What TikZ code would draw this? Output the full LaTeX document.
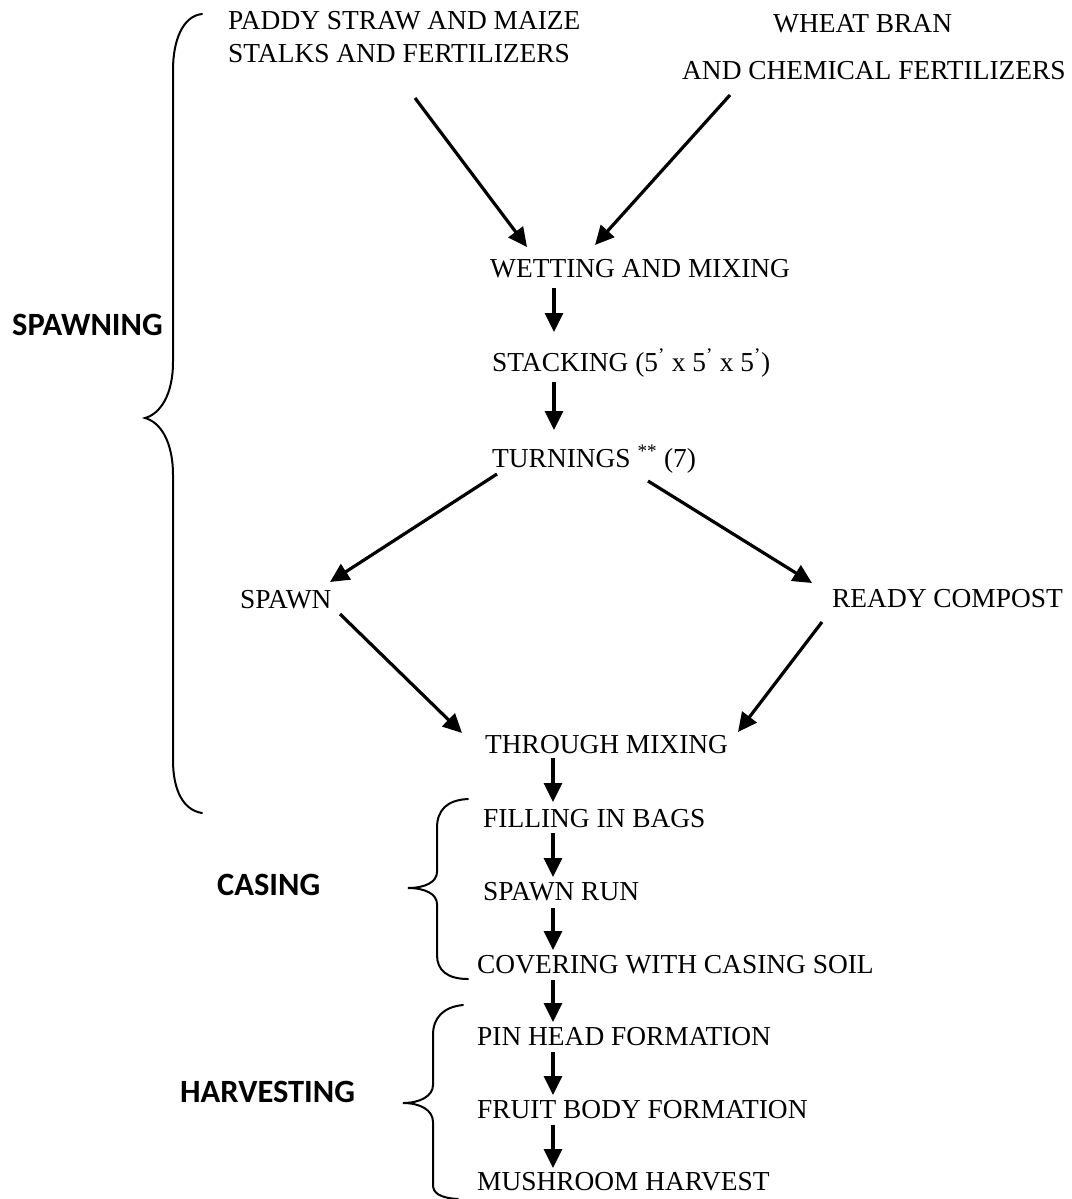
\documentclass[tikz,border=0pt]{standalone}
\usepackage{fontspec}
\setmainfont{Liberation Serif}
\newfontfamily\lblfont{Carlito}
\usetikzlibrary{arrows.meta}
\tikzset{
  txt/.style={anchor=base west, inner sep=0pt, font=\fontsize{27.4}{33}\selectfont},
  lbl/.style={anchor=base west, inner sep=0pt, font=\lblfont\bfseries\fontsize{32.5}{38}\selectfont},
  flow/.style={line width=3.2pt, -{Triangle[length=19pt,width=18pt]}},
  brace/.style={line width=2pt, line cap=round}
}
\begin{document}
\begin{tikzpicture}[x=1pt,y=-1pt]
\useasboundingbox (0,0) rectangle (1071,1199);
% texts
\node[txt] (paddy1) at (228,30) {PADDY STRAW AND MAIZE};
\node[txt] (paddy2) at (228,63) {STALKS AND FERTILIZERS};
\node[txt] (wheat1) at (773,33) {WHEAT BRAN};
\node[txt] (wheat2) at (682,80) {AND CHEMICAL FERTILIZERS};
\node[txt] (wet) at (490,277) {WETTING AND MIXING};
\node[txt] (stack) at (492,371) {STACKING (5\textsuperscript{’} x 5\textsuperscript{’} x 5\textsuperscript{’})};
\node[txt] (turn) at (492,467) {TURNINGS \textsuperscript{**} (7)};
\node[txt] (spawn) at (240,608) {SPAWN};
\node[txt] (ready) at (832,607) {READY COMPOST};
\node[txt] (through) at (485,753) {THROUGH MIXING};
\node[txt] (fill) at (483,827) {FILLING IN BAGS};
\node[txt] (run) at (483,900) {SPAWN RUN};
\node[txt] (cover) at (477,973) {COVERING WITH CASING SOIL};
\node[txt] (pin) at (477,1045) {PIN HEAD FORMATION};
\node[txt] (fruit) at (477,1118) {FRUIT BODY FORMATION};
\node[txt] (harv) at (477,1190) {MUSHROOM HARVEST};
% side labels
\node[lbl] (lspawning) at (12,335) {SPAWNING};
\node[lbl] (lcasing) at (217,895) {CASING};
\node[lbl] (lharvesting) at (180,1102) {HARVESTING};
% connector end points
\coordinate (d1s) at (415,98);  \coordinate (d1e) at (527,247);
\coordinate (d2s) at (730,95);  \coordinate (d2e) at (595,245);
\coordinate (d3s) at (497,474); \coordinate (d3e) at (330,582);
\coordinate (d4s) at (648,481); \coordinate (d4e) at (812,583);
\coordinate (d5s) at (340,614); \coordinate (d5e) at (462,733);
\coordinate (d6s) at (822,622); \coordinate (d6e) at (738,732);
\coordinate (v1s) at (554,288);  \coordinate (v1e) at (554,332);
\coordinate (v2s) at (554,382);  \coordinate (v2e) at (554,430);
\coordinate (v3s) at (553,758);  \coordinate (v3e) at (553,802);
\coordinate (v4s) at (553,833);  \coordinate (v4e) at (553,877);
\coordinate (v5s) at (553,908);  \coordinate (v5e) at (553,950);
\coordinate (v6s) at (553,980);  \coordinate (v6e) at (553,1022);
\coordinate (v7s) at (553,1052); \coordinate (v7e) at (553,1095);
\coordinate (v8s) at (553,1125); \coordinate (v8e) at (553,1168);
% arrows
\foreach \a in {d1,d2,d3,d4,d5,d6,v1,v2,v3,v4,v5,v6,v7,v8}
  \draw[flow] (\a s) -- (\a e);
% braces
\draw[brace] (202,14) .. controls (183,16) and (173,40) .. (173,70) -- (173,362)
  .. controls (173,395) and (160,414) .. (145,418)
  .. controls (160,422) and (173,441) .. (173,475) -- (173,760)
  .. controls (173,790) and (183,810) .. (202,813);
\draw[brace] (468,799) .. controls (447,800) and (437,810) .. (437,828) -- (437,872)
  .. controls (437,882) and (425,888) .. (408,888)
  .. controls (425,888) and (437,894) .. (437,904) -- (437,955)
  .. controls (437,970) and (447,979) .. (468,979);
\draw[brace] (463,1005) .. controls (443,1007) and (433,1018) .. (433,1035) -- (433,1085)
  .. controls (433,1096) and (420,1103) .. (403,1103)
  .. controls (420,1103) and (433,1110) .. (433,1122) -- (433,1185)
  .. controls (433,1193) and (440,1198) .. (458,1199);
\end{tikzpicture}
\end{document}
